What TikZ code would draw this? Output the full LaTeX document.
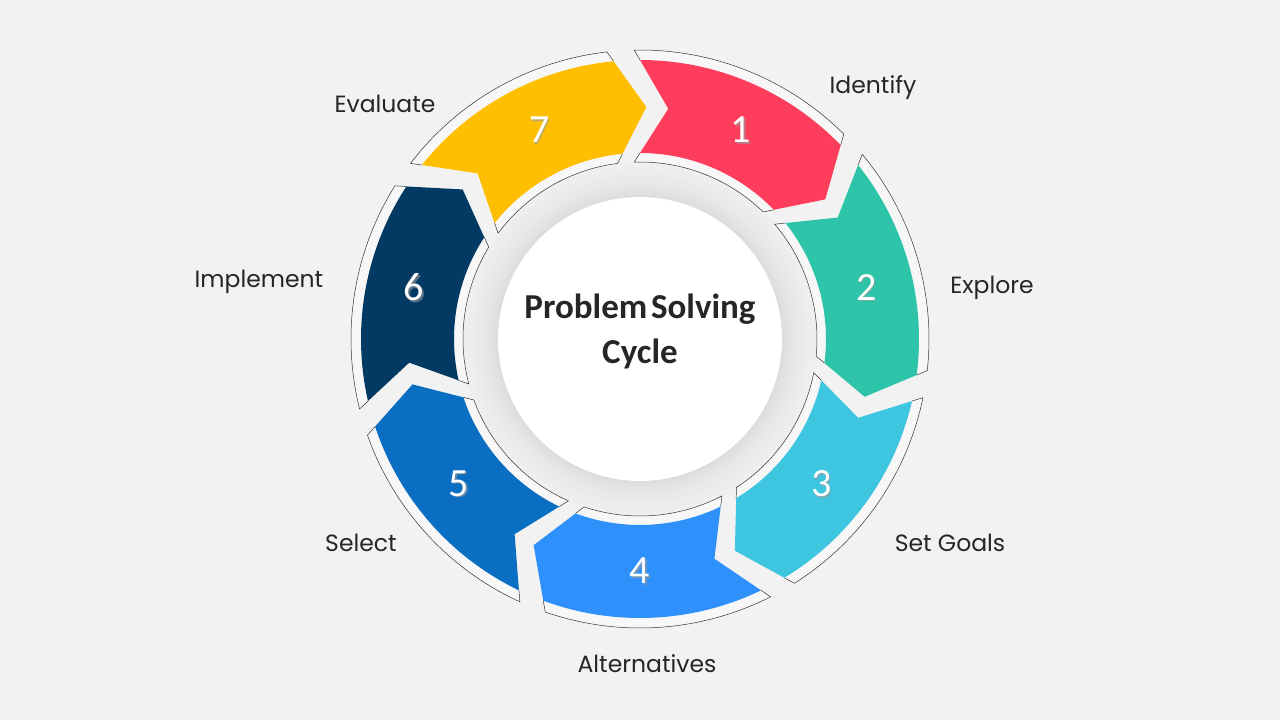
\documentclass[tikz,border=0pt]{standalone}
\usepackage{fontspec}
\setmainfont{Poppins}
\newfontfamily\numfont{Carlito}
\newfontfamily\titlefont{Carlito}
\definecolor{bg}{HTML}{F2F2F2}
\definecolor{band}{HTML}{F7F7F7}
\definecolor{ringlight}{HTML}{F0F0F0}
\definecolor{ringdark}{HTML}{D8D8D8}
\definecolor{txt}{HTML}{262626}
\definecolor{cA}{HTML}{FE3D5D}
\definecolor{cB}{HTML}{2EC4A9}
\definecolor{cC}{HTML}{3EC6E0}
\definecolor{cD}{HTML}{2E90FA}
\definecolor{cE}{HTML}{0A6EC2}
\definecolor{cF}{HTML}{023A63}
\definecolor{cG}{HTML}{FFBF00}
\tikzset{
  outl/.style={draw=black!80, line width=0.5pt},
  bandfill/.style={fill=band},
  numtext/.style={font=\numfont\fontsize{40}{40}\selectfont, text=white, inner sep=0pt},
  numshadow/.style={font=\numfont\fontsize{40}{40}\selectfont, text=black!40, inner sep=0pt, opacity=0.6},
  lbl/.style={font=\fontsize{23.5}{23.5}\selectfont, text=txt, inner sep=0pt},
  title/.style={font=\titlefont\bfseries\fontsize{35}{45}\selectfont, text=txt, align=center, inner sep=0pt}
}
\begin{document}
\begin{tikzpicture}[x=1pt,y=1pt]
\fill[bg] (-640,-381) rectangle (640,339);
\useasboundingbox (-640,-381) rectangle (640,339);
% gradient ring around centre
\foreach \r in {178,177,...,142}{
  \pgfmathsetmacro\p{100*sqrt((\r-142)/36)}
  \fill[ringlight!\p!ringdark] (0,0) circle[radius=\r pt];
}
\fill[white] (0,0) circle[radius=142pt];
% segments
\foreach \k/\col in {1/cA,2/cB,3/cC,4/cD,5/cE,6/cF,7/cG}{
  \pgfmathsetmacro\ta{90-(\k-1)*360/7}
  \pgfmathsetmacro\hb{\ta-46}
  \pgfmathsetmacro\tp{\hb-7}
  \pgfmathsetmacro\nt{\ta-7}
  \pgfmathsetmacro\tao{\ta+1.15}
  \pgfmathsetmacro\hbo{\hb+1.15}
  \pgfmathsetmacro\tai{\ta+1.86}
  \pgfmathsetmacro\hbi{\hb+1.86}
  \pgfmathsetmacro\lab{\ta-25.7}
  \fill[bandfill] (\tao:289) arc[start angle=\tao, end angle=\hbo, radius=289pt]
     -- (\tp:232) -- (\hbi:177) arc[start angle=\hbi, end angle=\tai, radius=177pt]
     -- (\nt:232) -- cycle;
  \draw[outl] (\ta:279) -- (\tao:289) arc[start angle=\tao, end angle=\hbo, radius=289pt] -- (\hb:279);
  \draw[outl] (\hb:186) -- (\hbi:177) arc[start angle=\hbi, end angle=\tai, radius=177pt] -- (\ta:186);
  \fill[\col] (\ta:279) arc[start angle=\ta, end angle=\hb, radius=279pt]
     -- (\tp:232) -- (\hb:186) arc[start angle=\hb, end angle=\ta, radius=186pt]
     -- (\nt:232) -- cycle;
  \node[numshadow] (s\k) at ([shift={(1.6,-1.6)}]\lab:232) {\k};
  \node[numtext] (n\k) at (\lab:232) {\k};
}
% centre title
\node[title] (t) at (0,8) {Problem\kern-0.12em\ Solving\\Cycle};
% labels
\node[lbl] (l1) at (233,251) {Identify};
\node[lbl] (l2) at (352,51) {Explore};
\node[lbl] (l3) at (310,-204) {Set Goals};
\node[lbl] (l4) at (7,-325) {Alternatives};
\node[lbl] (l5) at (-279,-204) {Select};
\node[lbl] (l6) at (-381,57) {Implement};
\node[lbl] (l7) at (-255,235) {Evaluate};
\end{tikzpicture}
\end{document}
